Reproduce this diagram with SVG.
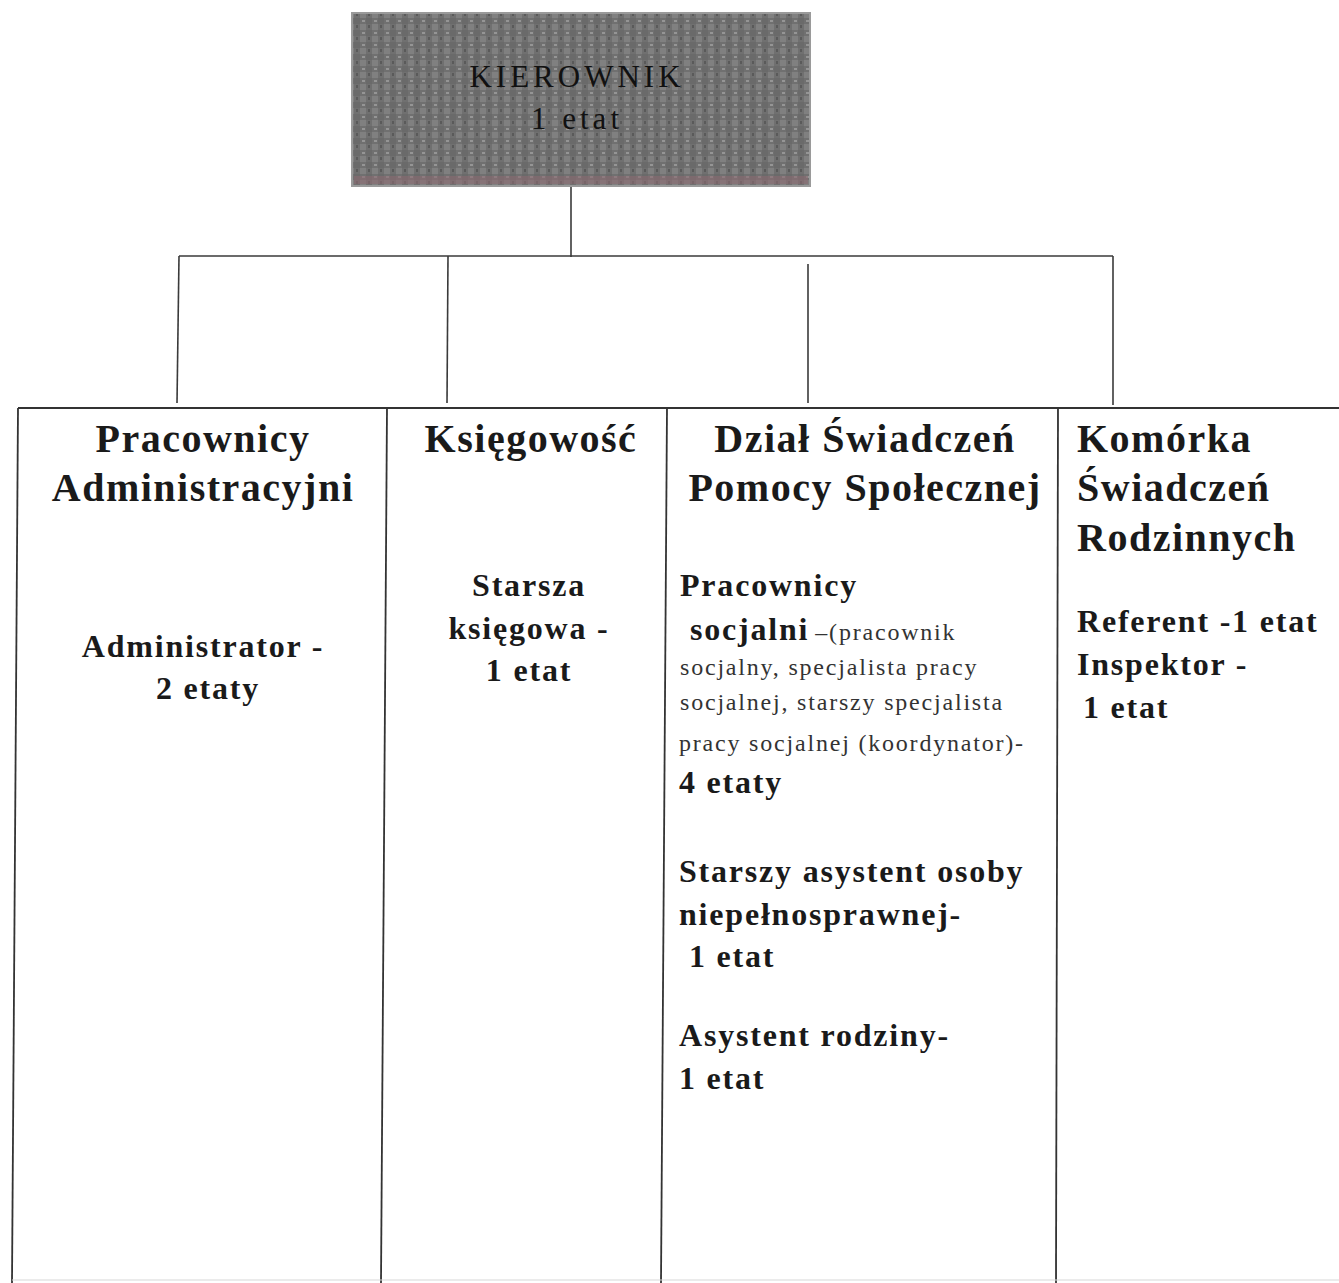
<svg xmlns="http://www.w3.org/2000/svg" width="1339" height="1283" viewBox="0 0 1339 1283">
<style>
.h{font-family:"Liberation Serif","Times New Roman",serif;font-weight:bold;font-size:40px;letter-spacing:1.5px;fill:#1a1a1a}
.s{font-family:"Liberation Serif","Times New Roman",serif;font-weight:bold;font-size:32px;letter-spacing:1.8px;fill:#1a1a1a}
.n{font-family:"Liberation Serif","Times New Roman",serif;font-weight:normal;font-size:24px;letter-spacing:1.8px;fill:#333}
.k{font-family:"Liberation Serif","Times New Roman",serif;font-size:31px;letter-spacing:4px;fill:#111}
.c{stroke:#3a3a3a;stroke-width:1.6;fill:none}
.t{stroke:#333;stroke-width:1.8;fill:none}
.m{text-anchor:middle}
</style>
<defs>
<pattern id="noise" width="12" height="12" patternUnits="userSpaceOnUse">
<rect width="12" height="12" fill="#707070"/>
<rect width="6" height="6" fill="#808080"/>
<rect x="6" y="6" width="6" height="6" fill="#6a6a6a"/>
<rect x="2" y="8" width="3" height="2" fill="#959595"/>
<rect x="8" y="1" width="2" height="3" fill="#5a5a5a"/>
</pattern>
</defs>
<rect width="1339" height="1283" fill="#ffffff"/>
<g id="connectors">
<line class="c" x1="571" y1="186" x2="571" y2="257"/>
<line class="c" x1="179" y1="256" x2="1113" y2="256"/>
<line class="c" x1="179" y1="256" x2="177" y2="403"/>
<line class="c" x1="448" y1="256" x2="447" y2="403"/>
<line class="c" x1="808" y1="264" x2="808" y2="403"/>
<line class="c" x1="1113" y1="256" x2="1113" y2="405"/>
</g>
<g id="kierownik">
<rect x="352" y="13" width="458" height="173" fill="url(#noise)" stroke="#9a9a9a" stroke-width="2"/>
<rect x="354" y="176" width="454" height="8" fill="#8a6a72" opacity="0.6"/>
<text class="k m" x="577" y="87">KIEROWNIK</text>
<text class="k m" x="577" y="129">1 etat</text>
</g>
<g id="table-frame">
<line class="t" x1="18" y1="408" x2="1339" y2="408"/>
<line class="t" x1="18" y1="408" x2="12" y2="1283"/>
<line class="t" x1="387" y1="408" x2="381" y2="1283"/>
<line class="t" x1="667" y1="408" x2="661" y2="1283"/>
<line class="t" x1="1058" y1="408" x2="1056" y2="1283"/>
<line x1="12" y1="1280" x2="1339" y2="1280" stroke="#d8d8d8" stroke-width="1.2"/>
</g>
<g id="col-administracyjni">
<text class="h m" x="203" y="452">Pracownicy</text>
<text class="h m" x="203" y="501">Administracyjni</text>
<text class="s m" x="203" y="657">Administrator -</text>
<text class="s m" x="208" y="699">2 etaty</text>
</g>
<g id="col-ksiegowosc">
<text class="h m" x="531" y="452">Księgowość</text>
<text class="s m" x="529" y="596">Starsza</text>
<text class="s m" x="529" y="639">księgowa -</text>
<text class="s m" x="529" y="681">1 etat</text>
</g>
<g id="col-dzial">
<text class="h m" x="865" y="452">Dział Świadczeń</text>
<text class="h m" x="865" y="501">Pomocy Społecznej</text>
<text class="s" x="680" y="596">Pracownicy</text>
<text x="690" y="640"><tspan class="s">socjalni</tspan><tspan class="n" dx="6">–(pracownik</tspan></text>
<text class="n" x="680" y="675">socjalny, specjalista pracy</text>
<text class="n" x="680" y="710">socjalnej, starszy specjalista</text>
<text class="n" x="679" y="751">pracy socjalnej (koordynator)-</text>
<text class="s" x="679" y="793">4 etaty</text>
<text class="s" x="679" y="882">Starszy asystent osoby</text>
<text class="s" x="679" y="925">niepełnosprawnej-</text>
<text class="s" x="689" y="967">1 etat</text>
<text class="s" x="679" y="1046">Asystent rodziny-</text>
<text class="s" x="679" y="1089">1 etat</text>
</g>
<g id="col-komorka">
<text class="h" x="1077" y="452">Komórka</text>
<text class="h" x="1077" y="501">Świadczeń</text>
<text class="h" x="1077" y="551">Rodzinnych</text>
<text class="s" x="1077" y="632">Referent -1 etat</text>
<text class="s" x="1077" y="675">Inspektor -</text>
<text class="s" x="1083" y="718">1 etat</text>
</g>
</svg>
